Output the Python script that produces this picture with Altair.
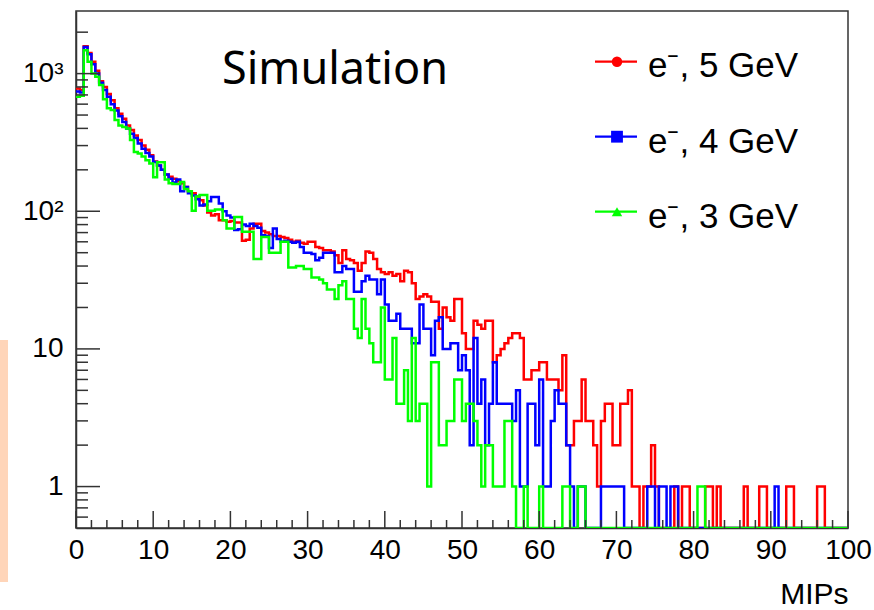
import altair as alt
import pandas as pd

bin_width = 0.5

red = [
    780, 760, 1580, 1410, 1220, 1050, 880, 800, 710, 640,
    560, 510, 470, 420, 390, 355, 330, 300, 280, 255,
    230, 215, 200, 185, 178, 172, 165, 160, 150, 140,
    135, 128, 120, 110, 98, 93, 95, 86, 86, 84,
    85, 83, 83, 61, 62, 75, 81, 81, 72, 70,
    68, 66, 66, 65, 64, 62, 60, 61, 59, 58,
    60, 60, 55, 54, 52, 52, 51, 48, 42, 52,
    45, 44, 42, 37, 42, 51, 50, 45, 38, 36,
    35, 36, 34, 35, 31, 37, 36, 30, 23, 24,
    25, 24, 22, 22, 14, 20, 17, 16, 23, 23,
    13, 10, 10, 16, 15, 14, 16, 16, 8, 9,
    10, 11, 12, 13, 13, 12, 6, 6, 7, 7,
    8, 8, 6, 6, 6, 5, 9, 2, 2, 3,
    3, 6, 3, 3, 2, 1, 3, 4, 4, 2,
    2, 4, 4, 5, 1, 1, 0, 1, 1, 2,
    1, 0, 0, 0, 0, 1, 0, 1, 1, 0,
    0, 0, 0, 1, 1, 0, 1, 0, 0, 0,
    0, 0, 0, 1, 0, 0, 0, 1, 1, 0,
    0, 0, 0, 0, 1, 1, 0, 0, 0, 0,
    0, 0, 1, 1, 0, 0, 0, 0, 0, 0,
]

blue = [
    740, 730, 1560, 1380, 1170, 1000, 860, 760, 680, 600,
    540, 490, 445, 400, 365, 340, 310, 285, 265, 250,
    228, 215, 200, 185, 172, 162, 170, 140, 150, 135,
    130, 122, 110, 112, 118, 127, 127, 114, 100, 93,
    90, 73, 74, 80, 78, 81, 78, 76, 67, 66,
    54, 75, 63, 60, 61, 60, 59, 60, 55, 50,
    50, 49, 44, 46, 50, 50, 50, 36, 36, 40,
    38, 38, 26, 26, 31, 34, 32, 32, 25, 32,
    21, 16, 16, 18, 14, 14, 14, 11, 11, 21,
    14, 14, 9, 16, 17, 10, 10, 11, 11, 7,
    9, 7, 2, 12, 4, 6, 2, 4, 8, 4,
    4, 4, 4, 3, 5, 1, 1, 4, 4, 2,
    6, 1, 1, 3, 5, 4, 4, 2, 1, 0,
    1, 1, 0, 0, 0, 0, 1, 1, 1, 1,
    1, 1, 0, 0, 0, 0, 0, 0, 1, 1,
    0, 1, 1, 0, 1, 1, 0, 0, 0, 0,
    0, 0, 0, 0, 0, 0, 0, 0, 0, 0,
    0, 0, 0, 0, 0, 0, 0, 0, 0, 0,
    0, 1, 0, 0, 0, 0, 0, 0, 0, 0,
    0, 0, 0, 0, 0, 0, 0, 0, 0, 0,
]

green = [
    680, 690, 1480, 1220, 1000, 950, 825, 650, 560, 545,
    460, 420, 410, 400, 330, 270, 263, 250, 235, 222,
    177, 227, 227, 170, 160, 158, 158, 163, 145, 140,
    101, 128, 131, 131, 101, 101, 103, 103, 86, 75,
    75, 91, 91, 71, 71, 71, 45, 45, 65, 65,
    50, 50, 50, 60, 60, 39, 39, 40, 40, 38,
    38, 33, 33, 32, 30, 27, 27, 23, 29, 31,
    23, 23, 14, 12, 23, 14, 11, 8, 8, 20,
    6, 6, 12, 4, 4, 7, 3, 12, 3, 4,
    4, 1, 8, 8, 2, 2, 3, 3, 6, 6,
    3, 4, 4, 3, 2, 1, 2, 2, 1, 1,
    1, 3, 3, 1, 0, 0, 1, 0, 0, 0,
    1, 0, 0, 0, 0, 0, 1, 1, 0, 0,
    1, 1, 0, 0, 0, 0, 0, 0, 0, 0,
    0, 0, 0, 0, 0, 0, 0, 0, 0, 0,
    0, 0, 0, 0, 0, 0, 0, 0, 0, 0,
    0, 1, 1, 0, 0, 0, 0, 0, 0, 0,
    0, 0, 0, 0, 0, 0, 0, 0, 0, 0,
    0, 0, 0, 0, 0, 0, 0, 0, 0, 0,
    0, 0, 0, 0, 0, 0, 0, 0, 0, 0,
]

series_labels = ["e\u207b, 5 GeV", "e\u207b, 4 GeV", "e\u207b, 3 GeV"]
series_colors = ["#ff0000", "#0000ff", "#00ff00"]
series_shapes = ["circle", "square", "triangle-up"]

x_major = [0, 10, 20, 30, 40, 50, 60, 70, 80, 90, 100]
x_minor = [v for v in range(2, 100, 2) if v % 10]
y_major = [1, 10, 100, 1000]
y_minor = [0.6, 0.7, 0.8, 0.9, 2, 3, 4, 5, 6, 7, 8, 9,
           20, 30, 40, 50, 60, 70, 80, 90,
           200, 300, 400, 500, 600, 700, 800, 900, 2000]

Y_MIN, Y_MAX = 0.5, 2850
W, H = 772, 517
AXIS_COLOR = "#333333"
FONT = "Liberation Sans"

xs = alt.Scale(domain=[0, 100], nice=False, zero=False)
ys = alt.Scale(type="log", domain=[Y_MIN, Y_MAX], nice=False)


def hist_df(values):
    edges = [i * bin_width for i in range(len(values) + 1)]
    vals = list(values) + [values[-1]]
    return pd.DataFrame({"x": edges, "count": [max(v, Y_MIN) for v in vals]})


x_axis = alt.Axis(values=x_major, ticks=False, grid=False, labelFontSize=28,
                  labelFont=FONT, labelColor="black", labelPadding=8,
                  domainColor=AXIS_COLOR, domainWidth=1.5, title="MIPs",
                  titleFont=FONT, titleFontSize=30, titleFontWeight="normal",
                  titleColor="black", titleX=W, titleY=75, titleAlign="right",
                  titleBaseline="alphabetic", labelFlush=False)
y_axis = alt.Axis(values=y_major, ticks=False, grid=False, labelFontSize=28,
                  labelFont=FONT, labelColor="black", labelPadding=13,
                  domainColor=AXIS_COLOR, domainWidth=1.5, title=None,
                  labelExpr="datum.value == 1000 ? '10\u00b3' : datum.value == 100 ? '10\u00b2' : datum.value == 10 ? '10' : '1'")

layers = []

# peach strip at far left
layers.append(
    alt.Chart(pd.DataFrame({"a": [0]})).mark_rect(color="#ffd5b9").encode(
        x=alt.value(-76), x2=alt.value(-68), y=alt.value(329), y2=alt.value(571))
)

for i, vals in enumerate([red, blue, green]):
    layers.append(
        alt.Chart(hist_df(vals)).mark_line(
            interpolate="step-after", color=series_colors[i], strokeWidth=2.5,
            clip=True).encode(
            x=alt.X("x:Q", scale=xs, axis=x_axis),
            y=alt.Y("count:Q", scale=ys, axis=y_axis))
    )

# inside ticks
layers.append(alt.Chart(pd.DataFrame({"v": y_major})).mark_rule(color=AXIS_COLOR, strokeWidth=1.5).encode(
    y=alt.Y("v:Q", scale=ys, axis=y_axis), x=alt.value(0), x2=alt.value(24)))
layers.append(alt.Chart(pd.DataFrame({"v": y_minor})).mark_rule(color=AXIS_COLOR, strokeWidth=1.5).encode(
    y=alt.Y("v:Q", scale=ys, axis=y_axis), x=alt.value(0), x2=alt.value(12)))
layers.append(alt.Chart(pd.DataFrame({"v": x_major})).mark_rule(color=AXIS_COLOR, strokeWidth=1.5).encode(
    x=alt.X("v:Q", scale=xs, axis=x_axis), y=alt.value(H), y2=alt.value(H - 17)))
layers.append(alt.Chart(pd.DataFrame({"v": x_minor})).mark_rule(color=AXIS_COLOR, strokeWidth=1.5).encode(
    x=alt.X("v:Q", scale=xs, axis=x_axis), y=alt.value(H), y2=alt.value(H - 8)))

# Simulation label
layers.append(alt.Chart(pd.DataFrame({"t": ["Simulation"]})).mark_text(
    font="Noto Sans", fontSize=45, align="left", baseline="alphabetic", color="black").encode(
    text="t:N", x=alt.value(146), y=alt.value(72.5)))

# legend
legend_line_y = [50.7, 125.7, 200.7]
legend_text_y = [66, 142, 217]
marker_sizes = [110, 140, 110]
for i in range(3):
    layers.append(alt.Chart(pd.DataFrame({"a": [0]})).mark_rule(
        color=series_colors[i], strokeWidth=2.2).encode(
        x=alt.value(519), x2=alt.value(561), y=alt.value(legend_line_y[i])))
    layers.append(alt.Chart(pd.DataFrame({"a": [0]})).mark_point(
        shape=series_shapes[i], filled=True, opacity=1, color=series_colors[i],
        size=marker_sizes[i]).encode(x=alt.value(541), y=alt.value(legend_line_y[i])))
    layers.append(alt.Chart(pd.DataFrame({"t": [series_labels[i]]})).mark_text(
        font=FONT, fontSize=35, align="left", baseline="alphabetic", color="black").encode(
        text="t:N", x=alt.value(572), y=alt.value(legend_text_y[i])))

chart = alt.layer(*layers).properties(
    width=W, height=H,
    padding={"left": 76, "top": 11, "right": 26, "bottom": 82},
    autosize=alt.AutoSizeParams(type="none"),
    background="white",
).configure_view(stroke=AXIS_COLOR, strokeWidth=1.5)

chart.save("out.html", embed_options={"renderer": "svg", "actions": False})
